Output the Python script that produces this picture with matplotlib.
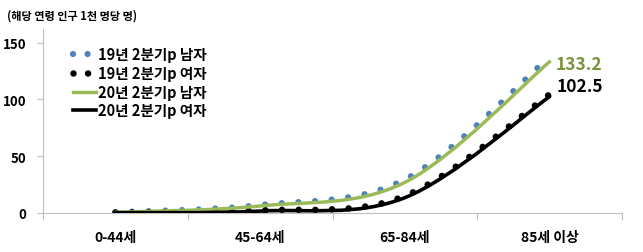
import matplotlib
matplotlib.use('Agg')
import matplotlib.pyplot as plt
from matplotlib.lines import Line2D
from matplotlib.patches import PathPatch
from matplotlib.path import Path

plt.rcParams['font.family'] = ['Noto Sans CJK KR', 'DejaVu Sans']
plt.rcParams['font.weight'] = 'bold'
plt.rcParams['lines.scale_dashes'] = False

ages = ['0-44세', '45-64세', '65-84세', '85세 이상']
male_19 = [0.7, 7.0, 29.5, 137.5]
female_19 = [0.4, 2.2, 15.0, 104.5]
male_20 = [0.6, 6.2, 27.0, 133.2]
female_20 = [0.3, 1.7, 13.5, 102.5]
names = ['19년 2분기p 남자', '19년 2분기p 여자', '20년 2분기p 남자', '20년 2분기p 여자']

BLUE = '#4F81BD'
GREEN = '#9BBB59'
GREEN_TXT = '#77933C'
GREY = '#C0C0C0'
DOTS = (0, (0.001, 12))


def smooth_path(ys):
    # excel like smoothed line (bezier with catmull-rom handles)
    pts = list(zip(range(len(ys)), ys))
    n = len(pts)
    verts = [pts[0]]
    codes = [Path.MOVETO]
    for i in range(n - 1):
        p0 = pts[max(i - 1, 0)]
        p1 = pts[i]
        p2 = pts[i + 1]
        p3 = pts[min(i + 2, n - 1)]
        c1 = (p1[0] + (p2[0] - p0[0]) / 6, p1[1] + (p2[1] - p0[1]) / 6)
        c2 = (p2[0] - (p3[0] - p1[0]) / 6, p2[1] - (p3[1] - p1[1]) / 6)
        verts += [c1, c2, p2]
        codes += [Path.CURVE4] * 3
    return Path(verts, codes)


def add_curve(ax, ys, color, lw, ls='-', z=2):
    p = PathPatch(smooth_path(ys), fill=False, edgecolor=color, lw=lw,
                  linestyle=ls, capstyle='round', joinstyle='round', zorder=z)
    ax.add_patch(p)


fig = plt.figure(figsize=(6.43, 2.53), dpi=100)
ax = fig.add_axes([43 / 643, 39 / 253, 579 / 643, 184 / 253])

add_curve(ax, male_19, BLUE, 4.5, DOTS, 2)
add_curve(ax, female_19, 'black', 4.7, DOTS, 2)
add_curve(ax, male_20, GREEN, 2.5, '-', 3)
add_curve(ax, female_20, 'black', 2.6, '-', 4)

ax.set_xlim(-0.5, len(ages) - 0.5)
ax.set_ylim(0, 162)

# category axis: ticks between groups, labels in the middle
ax.set_xticks([i - 0.5 for i in range(len(ages) + 1)])
ax.set_xticklabels([])
ax.set_xticks(range(len(ages)), minor=True)
ax.set_xticklabels(ages, minor=True, fontsize=10)
ax.tick_params(axis='x', which='major', length=5, color=GREY)
ax.tick_params(axis='x', which='minor', length=0, pad=12)

ax.set_yticks([0, 50, 100, 150])
ax.tick_params(axis='y', length=4, color=GREY, labelsize=9.5, pad=8)

for s in ['top', 'right']:
    ax.spines[s].set_visible(False)
for s in ['left', 'bottom']:
    ax.spines[s].set_color(GREY)

handles = [
    Line2D([], [], color=BLUE, lw=4.5, ls=(0, (0.001, 10.5)), dash_capstyle='round'),
    Line2D([], [], color='black', lw=4.7, ls=(0, (0.001, 10.5)), dash_capstyle='round'),
    Line2D([], [], color=GREEN, lw=2.5),
    Line2D([], [], color='black', lw=2.6),
]
ax.legend(handles, names, loc='upper left', bbox_to_anchor=(0.052, 0.905),
          frameon=False, fontsize=10.5, borderpad=0, borderaxespad=0,
          handlelength=1.55, handletextpad=0.15, labelspacing=0.18)

ax.annotate(f'{male_20[-1]}', xy=(3, male_20[-1]), xytext=(4.5, -1.5),
            textcoords='offset points', color=GREEN_TXT, fontsize=12.5,
            va='center', ha='left')
ax.annotate(f'{female_20[-1]}', xy=(3, female_20[-1]), xytext=(5, 7.5),
            textcoords='offset points', color='black', fontsize=12.5,
            va='center', ha='left')

fig.text(7 / 643, 1 - 16 / 253, '(해당 연령 인구 1천 명당 명)', fontsize=8,
         va='center', ha='left')

fig.savefig('out.png', dpi=100)
